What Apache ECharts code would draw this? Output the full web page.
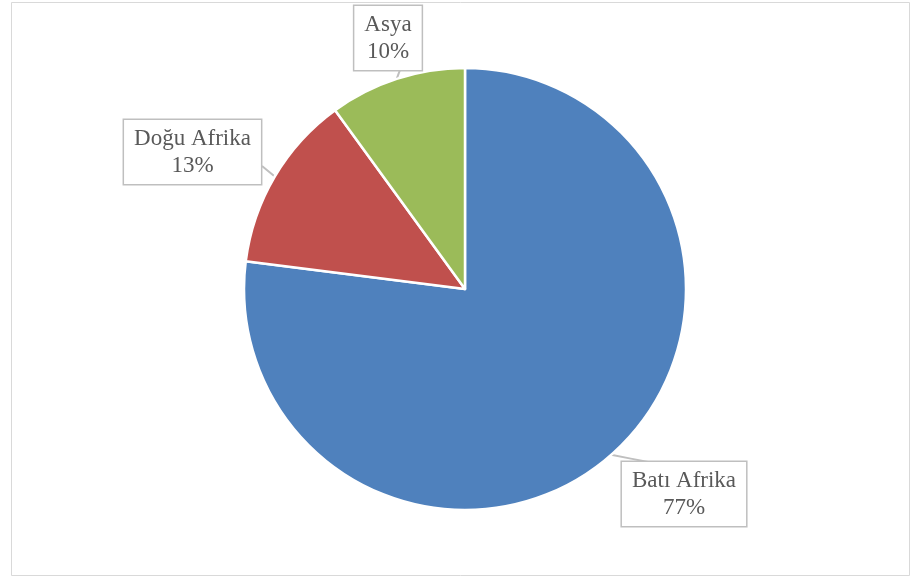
<!DOCTYPE html>
<html>
<head>
<meta charset="utf-8">
<script src="https://cdn.jsdelivr.net/npm/echarts@6/dist/echarts.min.js"></script>
<style>
  html, body { margin: 0; padding: 0; background: #fff; }
  #chart { width: 913px; height: 578px; }
</style>
</head>
<body>
<div id="chart"></div>
<script>
// Regions and their shares (%)
const regions = ['Batı Afrika', 'Doğu Afrika', 'Asya'];
const shares = [77, 13, 10];
const colors = ['#4F81BD', '#C0504D', '#9BBB59'];

// Pie geometry (px)
const pieCentre = [465, 289];
const pieRadius = 221;

// Callout box centres and the point where each pointer meets its box (px)
const calloutCentres = [[684, 494], [192.5, 152], [388, 38]];
const calloutAnchors = [[648, 462], [262, 166], [400, 70]];

// Point on the rim at the middle of slice i (clockwise from 12 o'clock)
function rimPoint(i) {
  const total = shares.reduce((a, b) => a + b, 0);
  const before = shares.slice(0, i).reduce((a, b) => a + b, 0);
  const theta = (before + shares[i] / 2) / total * 2 * Math.PI;
  return [pieCentre[0] + pieRadius * Math.sin(theta),
          pieCentre[1] - pieRadius * Math.cos(theta)];
}

const chart = echarts.init(document.getElementById('chart'));

chart.setOption({
  backgroundColor: '#ffffff',
  animation: false,
  graphic: [{
    type: 'rect',
    shape: { x: 11.5, y: 2.5, width: 898, height: 573 },
    style: { fill: 'none', stroke: '#d9d9d9', lineWidth: 1 },
    silent: true
  }],
  series: [{
    type: 'pie',
    center: pieCentre,
    radius: pieRadius,
    startAngle: 90,
    clockwise: true,
    avoidLabelOverlap: false,
    itemStyle: { borderColor: '#ffffff', borderWidth: 2.5 },
    label: {
      show: true,
      position: 'outside',
      formatter: p => p.name + '\n' + p.value + '%',
      fontFamily: '"Liberation Serif", "Times New Roman", serif',
      fontSize: 23,
      lineHeight: 27,
      color: '#595959',
      align: 'center',
      backgroundColor: '#ffffff',
      borderColor: '#bfbfbf',
      borderWidth: 1.5,
      padding: [5, 10]
    },
    labelLine: {
      show: true,
      length: 10,
      length2: 10,
      lineStyle: { color: '#bfbfbf', width: 2 }
    },
    labelLayout: p => {
      const i = p.dataIndex;
      const a = rimPoint(i);
      const b = calloutAnchors[i];
      return {
        x: calloutCentres[i][0],
        y: calloutCentres[i][1],
        align: 'center',
        verticalAlign: 'middle',
        labelLinePoints: [a, [(a[0] + b[0]) / 2, (a[1] + b[1]) / 2], b]
      };
    },
    data: regions.map((name, i) => ({
      name: name,
      value: shares[i],
      itemStyle: { color: colors[i] }
    }))
  }]
});
</script>
</body>
</html>
